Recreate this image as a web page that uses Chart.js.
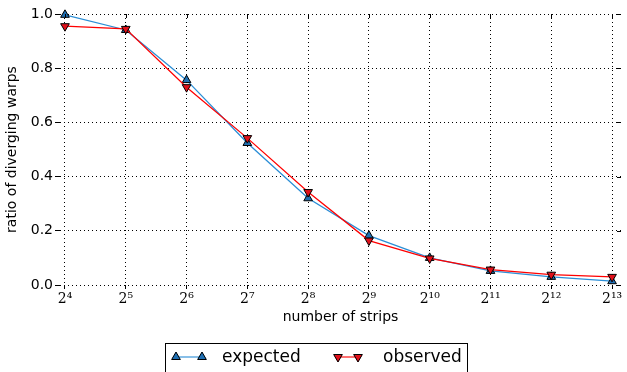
<!DOCTYPE html>
<html>
<head>
<meta charset="utf-8">
<script src="https://cdn.jsdelivr.net/npm/chart.js@4.4.1/dist/chart.umd.min.js"></script>
<style>
  html, body { margin: 0; padding: 0; background: #fff; }
  #wrap { width: 627px; height: 372px; position: relative; }
</style>
</head>
<body>
<div id="wrap"><canvas id="chart"></canvas></div>
<script>
// number of strips (x) and ratio of diverging warps (y)
const strips = [16, 32, 64, 128, 256, 512, 1024, 2048, 4096, 8192];
const expected = [0.997, 0.941, 0.756, 0.524, 0.320, 0.182, 0.100, 0.052, 0.030, 0.014];
const observed = [0.955, 0.945, 0.730, 0.542, 0.343, 0.164, 0.098, 0.057, 0.038, 0.030];
const yTicks = [0, 0.2, 0.4, 0.6, 0.8, 1.0];

const sup = {'0':'⁰','1':'¹','2':'²','3':'³','4':'⁴','5':'⁵','6':'⁶','7':'⁷','8':'⁸','9':'⁹'};
function powLabel(v) {
    const e = String(Math.round(Math.log2(v)));
    return '2' + e.split('').map(c => sup[c]).join('');
}

const blueLine = '#2b8ed6';
const blueMark = '#1f6fb2';
const redLine = '#ff0000';
const redMark = '#e0101a';

const legendBox = {
    id: 'legendBox',
    afterDraw(chart) {
        const ctx = chart.ctx;
        const a = chart.chartArea;
        ctx.save();
        // small solid ticks on right and top edges
        ctx.strokeStyle = '#000';
        ctx.lineWidth = 1;
        chart.scales.y.ticks.forEach(t => {
            const y = Math.round(chart.scales.y.getPixelForValue(t.value)) + 0.5;
            ctx.beginPath(); ctx.moveTo(a.right - 4, y); ctx.lineTo(a.right, y); ctx.stroke();
        });
        chart.scales.x.ticks.forEach(t => {
            const x = Math.round(chart.scales.x.getPixelForValue(t.value)) + 0.5;
            ctx.beginPath(); ctx.moveTo(x, a.top); ctx.lineTo(x, a.top + 4); ctx.stroke();
        });

        // legend frame
        ctx.strokeRect(165.5, 343.5, 302, 40);
        const items = [
            {label: 'expected', line: blueLine, fill: blueMark, rot: 0, x0: 176, x1: 202, tx: 222},
            {label: 'observed', line: redLine, fill: redMark, rot: 180, x0: 338, x1: 358, tx: 383}
        ];
        const ly = 357;
        ctx.font = '17px "DejaVu Sans"';
        ctx.textBaseline = 'middle';
        items.forEach(it => {
            ctx.strokeStyle = it.line;
            ctx.globalAlpha = 0.75;
            ctx.lineWidth = 1.5;
            ctx.beginPath(); ctx.moveTo(it.x0, ly); ctx.lineTo(it.x1, ly); ctx.stroke();
            ctx.globalAlpha = 1;
            [it.x0, it.x1].forEach(px => {
                ctx.fillStyle = it.fill;
                ctx.strokeStyle = '#000';
                ctx.lineWidth = 1;
                Chart.helpers.drawPoint(ctx, {pointStyle: 'triangle', radius: 5, rotation: it.rot}, px, ly);
                ctx.fill();
                ctx.stroke();
            });
            ctx.fillStyle = '#000';
            ctx.fillText(it.label, it.tx, ly + 1);
        });
        ctx.restore();
    }
};

new Chart(document.getElementById('chart'), {
    type: 'line',
    data: {
        datasets: [
            {
                label: 'expected',
                data: strips.map((s, i) => ({x: s, y: expected[i]})),
                borderColor: blueLine,
                borderWidth: 1.3,
                pointStyle: 'triangle',
                pointRadius: 5,
                pointBackgroundColor: blueMark,
                pointBorderColor: '#000',
                pointBorderWidth: 1,
                clip: false,
                order: 2
            },
            {
                label: 'observed',
                data: strips.map((s, i) => ({x: s, y: observed[i]})),
                borderColor: redLine,
                borderWidth: 1.3,
                pointStyle: 'triangle',
                pointRotation: 180,
                pointRadius: 5,
                pointBackgroundColor: redMark,
                pointBorderColor: '#000',
                pointBorderWidth: 1,
                clip: false,
                order: 1
            }
        ]
    },
    options: {
        responsive: true,
        maintainAspectRatio: false,
        animation: false,
        layout: { padding: { top: 14, right: 2, bottom: 42, left: 0 } },
        plugins: { legend: { display: false }, tooltip: { enabled: false } },
        scales: {
            x: {
                type: 'logarithmic',
                min: Math.pow(2, 3.918),
                max: Math.pow(2, 13.147),
                afterBuildTicks: scale => { scale.ticks = strips.map(v => ({value: v})); },
                afterFit: scale => { scale.height = 45; },
                border: { display: false, dash: [1, 3] },
                grid: {
                    color: '#000',
                    lineWidth: 1,
                    tickLength: 4,
                    tickColor: '#000',
                    tickBorderDash: []
                },
                ticks: {
                    autoSkip: false,
                    maxRotation: 0,
                    color: '#000',
                    padding: 2,
                    font: { family: '"DejaVu Serif"', size: 14 },
                    callback: v => powLabel(v)
                },
                title: {
                    display: true,
                    text: 'number of strips',
                    color: '#000',
                    font: { family: '"DejaVu Sans"', size: 14 },
                    padding: { top: 0, bottom: 4 }
                }
            },
            y: {
                min: 0,
                max: 1,
                afterBuildTicks: scale => { scale.ticks = yTicks.map(v => ({value: v})); },
                afterFit: scale => { scale.width = 60; },
                border: { display: false, dash: [1, 3] },
                grid: {
                    color: '#000',
                    lineWidth: 1,
                    tickLength: 5,
                    tickColor: '#000',
                    tickBorderDash: []
                },
                ticks: {
                    color: '#000',
                    padding: 2,
                    font: { family: '"DejaVu Sans"', size: 14 },
                    callback: v => v.toFixed(1)
                },
                title: {
                    display: true,
                    text: 'ratio of diverging warps',
                    color: '#000',
                    font: { family: '"DejaVu Sans"', size: 14 },
                    padding: { top: 4, bottom: 2 }
                }
            }
        }
    },
    plugins: [legendBox]
});
</script>
</body>
</html>
